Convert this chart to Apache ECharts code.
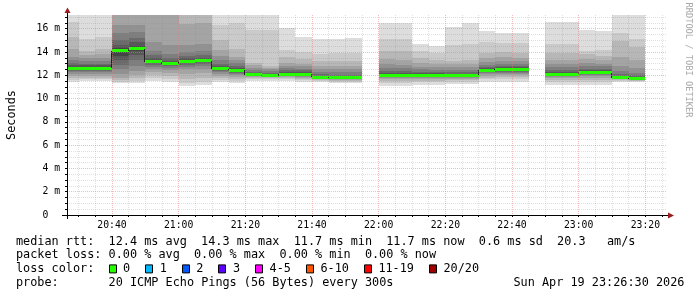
<!DOCTYPE html>
<html><head><meta charset="utf-8">
<script src="https://cdn.jsdelivr.net/npm/echarts@6/dist/echarts.min.js"></script>
<style>html,body{margin:0;padding:0;background:#fff}#c{width:697px;height:297px}</style>
</head><body><div id="c"></div>
<script>
// ---- data (times are 5-minute RRD steps, values in ms) ----
const rangeStart = '20:26:30';
const rangeEnd = '23:26:30';
const stepMinutes = 5;
const stepStart = ['20:25','20:30','20:35','20:40','20:45','20:50','20:55','21:00','21:05','21:10',
  '21:15','21:20','21:25','21:30','21:35','21:40','21:45','21:50','21:55','22:00',
  '22:05','22:10','22:15','22:20','22:25','22:30','22:35','22:40','22:45','22:50',
  '22:55','23:00','23:05','23:10','23:15'];
const medianRtt = [12.62,12.62,12.62,14.09,14.3,13.18,13.0,13.19,13.26,12.55,
  12.42,12.04,11.98,12.1,12.1,11.84,11.78,11.78,null,12.02,
  12.02,12.02,12.02,12.02,12.02,12.44,12.5,12.5,null,12.1,
  12.1,12.24,12.24,11.78,11.72];
// 20 sorted ping RTTs per step (smoke)
const pingsSorted = [
  [11.4,11.6,11.8,11.95,12.1,12.25,12.38,12.48,12.56,12.6,12.64,12.72,12.85,13.05,13.3,13.6,14.3,15.3,16.6,17.5],
  [11.5,11.65,11.8,11.95,12.1,12.25,12.38,12.48,12.56,12.6,12.64,12.72,12.85,13.0,13.2,13.45,13.75,14.1,15.1,17.5],
  [11.5,11.65,11.8,11.95,12.1,12.25,12.38,12.48,12.56,12.6,12.64,12.72,12.85,13.0,13.2,13.45,13.8,14.3,15.3,17.5],
  [11.3,11.45,11.6,11.8,12.1,12.5,12.9,13.3,13.7,14.05,14.15,14.35,14.6,15.0,15.6,16.3,17.3,18.0,19.0,20.0],
  [11.3,11.5,11.75,12.05,12.4,12.8,13.3,13.75,14.1,14.25,14.35,14.55,14.85,15.2,15.7,16.3,17.3,18.0,19.0,20.5],
  [11.5,11.75,12.0,12.3,12.55,12.75,12.9,13.02,13.12,13.16,13.2,13.3,13.5,13.75,14.1,14.9,17.3,18.0,19.0,20.0],
  [11.45,11.7,11.95,12.2,12.45,12.65,12.8,12.9,12.96,13.0,13.04,13.12,13.25,13.45,13.8,14.6,17.3,18.0,19.0,20.0],
  [11.1,11.35,11.7,12.1,12.5,12.75,12.92,13.05,13.13,13.17,13.21,13.3,13.45,13.7,14.0,14.6,16.4,17.5,18.5,20.0],
  [11.2,11.45,11.8,12.2,12.55,12.8,13.0,13.12,13.2,13.24,13.28,13.36,13.5,13.75,14.05,14.7,16.5,17.5,18.5,20.0],
  [11.4,11.6,11.8,11.95,12.1,12.25,12.36,12.45,12.51,12.54,12.57,12.64,12.78,13.0,13.3,13.7,14.2,15.0,16.3,17.5],
  [11.3,11.5,11.7,11.85,12.0,12.12,12.22,12.31,12.37,12.41,12.44,12.52,12.65,12.82,13.05,13.3,13.6,14.3,16.5,17.5],
  [11.55,11.7,11.8,11.88,11.93,11.97,12.0,12.02,12.03,12.04,12.06,12.1,12.18,12.3,12.45,12.65,12.85,13.07,15.9,17.5],
  [11.5,11.65,11.75,11.83,11.88,11.92,11.95,11.97,11.98,11.98,12.0,12.04,12.1,12.2,12.35,12.5,12.65,12.8,15.9,17.5],
  [11.5,11.65,11.75,11.85,11.92,11.98,12.02,12.06,12.09,12.1,12.12,12.18,12.28,12.42,12.6,12.8,13.07,13.6,14.2,16.07],
  [11.45,11.6,11.7,11.8,11.88,11.95,12.0,12.05,12.08,12.1,12.12,12.18,12.28,12.42,12.58,12.78,13.0,13.4,14.0,15.3],
  [11.4,11.5,11.6,11.68,11.74,11.78,11.8,11.82,11.83,11.84,11.86,11.9,11.98,12.1,12.3,12.55,12.8,13.2,13.8,15.15],
  [11.35,11.45,11.55,11.62,11.68,11.72,11.74,11.76,11.77,11.78,11.8,11.85,11.93,12.05,12.25,12.5,12.8,13.2,13.9,15.15],
  [11.3,11.45,11.55,11.62,11.68,11.72,11.74,11.76,11.77,11.78,11.8,11.84,11.92,12.05,12.25,12.5,12.8,13.2,13.9,15.2],
  null,
  [11.05,11.3,11.5,11.65,11.75,11.85,11.92,11.96,11.99,12.01,12.03,12.08,12.18,12.35,12.6,12.95,13.4,14.1,15.1,16.5],
  [11.05,11.3,11.5,11.65,11.75,11.85,11.92,11.96,11.99,12.01,12.03,12.08,12.18,12.35,12.6,12.9,13.35,14.05,15.1,16.5],
  [11.2,11.4,11.55,11.68,11.78,11.86,11.92,11.96,11.99,12.01,12.03,12.08,12.16,12.3,12.5,12.75,13.05,13.45,14.05,14.72],
  [11.2,11.4,11.55,11.68,11.78,11.86,11.92,11.96,11.99,12.01,12.03,12.08,12.16,12.28,12.45,12.7,12.95,13.35,13.9,14.5],
  [11.25,11.45,11.6,11.7,11.8,11.87,11.93,11.97,11.99,12.01,12.03,12.08,12.15,12.28,12.45,12.7,12.95,13.2,14.6,16.15],
  [11.25,11.45,11.6,11.7,11.8,11.87,11.93,11.97,11.99,12.01,12.03,12.08,12.15,12.28,12.45,12.7,13.0,13.3,14.7,16.5],
  [11.45,11.65,11.8,11.95,12.08,12.2,12.3,12.36,12.41,12.43,12.46,12.52,12.6,12.74,12.92,13.15,13.45,13.95,14.85,15.78],
  [11.45,11.65,11.85,12.0,12.12,12.22,12.32,12.4,12.46,12.49,12.52,12.58,12.68,12.82,13.0,13.25,13.55,14.0,14.8,15.64],
  [11.45,11.65,11.85,12.0,12.12,12.22,12.32,12.4,12.46,12.49,12.52,12.58,12.68,12.82,13.0,13.25,13.5,13.95,14.75,15.64],
  null,
  [11.2,11.45,11.62,11.75,11.85,11.93,11.99,12.04,12.08,12.1,12.13,12.18,12.28,12.45,12.7,13.0,13.35,13.9,14.65,16.58],
  [11.2,11.45,11.62,11.75,11.85,11.93,11.99,12.04,12.08,12.1,12.13,12.18,12.28,12.45,12.7,13.0,13.35,13.9,14.65,16.58],
  [11.15,11.4,11.6,11.75,11.9,12.0,12.08,12.15,12.2,12.23,12.26,12.32,12.42,12.58,12.8,13.05,13.4,13.8,14.1,15.92],
  [11.15,11.4,11.6,11.75,11.9,12.0,12.08,12.15,12.2,12.23,12.26,12.32,12.42,12.58,12.78,13.0,13.3,13.7,14.2,15.84],
  [11.4,11.5,11.58,11.64,11.69,11.73,11.75,11.76,11.77,11.78,11.8,11.85,11.95,12.1,12.35,12.8,13.6,14.95,15.6,17.5],
  [11.4,11.48,11.55,11.6,11.64,11.67,11.69,11.7,11.71,11.72,11.74,11.78,11.88,12.0,12.2,12.6,13.3,14.4,15.1,17.5]
];
const yMax = 17.18;
const yLabelValues = [0,2,4,6,8,10,12,14,16];
const yGridStep = 0.5;
const xLabelTimes = ['20:40','21:00','21:20','21:40','22:00','22:20','22:40','23:00','23:20'];
const xGridTimes = ['20:30','20:35','20:40','20:45','20:50','20:55','21:00','21:05','21:10','21:15',
  '21:20','21:25','21:30','21:35','21:40','21:45','21:50','21:55','22:00','22:05','22:10','22:15',
  '22:20','22:25','22:30','22:35','22:40','22:45','22:50','22:55','23:00','23:05','23:10','23:15',
  '23:20','23:25'];
const legendRtt = ['median rtt:', '12.4 ms avg', '14.3 ms max', '11.7 ms min', '11.7 ms now', '0.6 ms sd', '20.3   am/s'];
const legendLoss = ['packet loss:', '0.00 % avg', '0.00 % max', '0.00 % min', '0.00 % now'];
const lossLabels = ['0','1','2','3','4-5','6-10','11-19','20/20'];
const lossColors = ['#26ff00','#00b8ff','#0059ff','#5e00ff','#ff00ff','#ff5500','#ff0000','#a10000'];
const probeText = '20 ICMP Echo Pings (56 Bytes) every 300s';
const stampText = 'Sun Apr 19 23:26:30 2026';

// ---- helpers ----
function toMin(t) { const p = t.split(':').map(Number); return p[0]*60 + p[1] + (p[2]||0)/60; }
function fmt(m) { const h = Math.floor(m/60), mm = Math.round(m%60); return h + ':' + (mm<10?'0':'') + mm; }
const xMin = toMin(rangeStart), xMax = toMin(rangeEnd);

const smokeData = [], medianData = [];
stepStart.forEach((t, i) => {
  const s = toMin(t), e = s + stepMinutes;
  if (pingsSorted[i]) smokeData.push([s, e].concat(pingsSorted[i]));
  if (medianRtt[i] != null) {
    const prev = i > 0 && medianRtt[i-1] != null ? medianRtt[i-1] : NaN;
    medianData.push([s, e, medianRtt[i], prev]);
  }
});

const MAJOR = 'rgba(235,120,120,0.5)', MINOR = 'rgba(140,140,140,0.28)';
const yGridValues = [];
for (let v = 0; v <= yMax + 1e-9; v += yGridStep) yGridValues.push(+v.toFixed(2));
const yGridColors = yGridValues.map((v, i) => i % 4 === 0 ? MAJOR : MINOR);
const xGridValues = xGridTimes.map(toMin);
const xGridColors = xGridValues.map(v => (Math.round(v) % 20 === 0) ? MAJOR : MINOR);

function renderSmoke(params, api) {
  const s = api.value(0), e = api.value(1);
  const x0 = Math.round(api.coord([Math.max(s, xMin), 0])[0]);
  const x1 = Math.round(api.coord([Math.min(e, xMax), 0])[0]);
  const children = [];
  for (let i = 0; i < 10; i++) {
    const lo = api.value(2 + i), hi = Math.min(api.value(21 - i), yMax);
    const yLo = Math.round(api.coord([s, lo])[1]);
    const yHi = Math.round(api.coord([s, hi])[1]);
    const c = Math.floor(190 / 10 * (10 - (i + 1))) + 50;
    children.push({ type: 'rect', shape: { x: x0, y: yHi, width: x1 - x0, height: Math.max(yLo - yHi, 1) },
      style: { fill: 'rgb(' + c + ',' + c + ',' + c + ')' } });
  }
  return { type: 'group', children };
}
function renderMedian(params, api) {
  const s = api.value(0), e = api.value(1), m = api.value(2), prev = api.value(3);
  const xa = Math.round(api.coord([Math.max(s, xMin), m])[0]);
  const xb = Math.round(api.coord([Math.min(e, xMax), m])[0]);
  const ym = api.coord([s, m])[1];
  const children = [];
  if (!isNaN(prev)) {
    const yp = api.coord([s, prev])[1];
    children.push({ type: 'line', shape: { x1: xa - 0.5, y1: Math.round(yp), x2: xa - 0.5, y2: Math.round(ym) },
      style: { stroke: '#202020', lineWidth: 1 } });
  }
  children.push({ type: 'rect', shape: { x: xa, y: Math.round(ym - 1.5), width: xb - xa, height: 3 },
    style: { fill: lossColors[0] } });
  return { type: 'group', children };
}

const MONO = "'DejaVu Sans Mono', monospace";
const LF = 11.83, CW = 7.12, X0 = 16;
const rowY = [241.5, 255.2, 268.9, 282.6];
const graphics = [];
function addText(x, y, text, extra) {
  graphics.push(Object.assign({ type: 'text', x: x, y: y, silent: true,
    style: { text: text, font: LF + 'px ' + MONO, fill: '#000', textAlign: 'left', textVerticalAlign: 'middle' } }, extra || {}));
}
const rttCols = [0, 13, 26, 39, 52, 65, 76];
legendRtt.forEach((t, i) => addText(X0 + rttCols[i] * CW, rowY[0], t));
const lossCols = [0, 13, 25, 37, 49];
legendLoss.forEach((t, i) => addText(X0 + lossCols[i] * CW, rowY[1], t));
addText(X0, rowY[2], 'loss color:');
let bx = X0 + 13 * CW;
lossLabels.forEach((lab, i) => {
  graphics.push({ type: 'rect', silent: true, shape: { x: Math.round(bx) + 0.5, y: rowY[2] - 4, width: 7, height: 8 },
    style: { fill: lossColors[i], stroke: '#000', lineWidth: 1 } });
  const lx = bx + 14.5;
  addText(lx, rowY[2], lab);
  bx = lx + lab.length * CW + 15;
});
addText(X0, rowY[3], 'probe:');
addText(X0 + 13 * CW, rowY[3], probeText);
addText(513.5, rowY[3], stampText);
graphics.push({ type: 'text', x: 12, y: 115, rotation: Math.PI / 2, silent: true,
  style: { text: 'Seconds', font: LF + 'px ' + MONO, fill: '#000', textAlign: 'center', textVerticalAlign: 'middle' } });
graphics.push({ type: 'text', x: 688.5, y: 60, rotation: -Math.PI / 2, silent: true,
  style: { text: 'RRDTOOL / TOBI OETIKER', font: '8.7px ' + MONO, fill: '#a8a8a8', textAlign: 'center', textVerticalAlign: 'middle' } });
graphics.push({ type: 'line', silent: true, z: 20, shape: { x1: 62, y1: 215.5, x2: 668, y2: 215.5 }, style: { stroke: '#000', lineWidth: 1 } });
graphics.push({ type: 'line', silent: true, z: 20, shape: { x1: 67.5, y1: 219, x2: 67.5, y2: 12 }, style: { stroke: '#000', lineWidth: 1 } });
graphics.push({ type: 'polygon', silent: true, z: 21, shape: { points: [[64.5, 13], [70.5, 13], [67.5, 7.5]] }, style: { fill: '#9b1c1c' } });
graphics.push({ type: 'polygon', silent: true, z: 21, shape: { points: [[668, 212.5], [668, 218.5], [674, 215.5]] }, style: { fill: '#9b1c1c' } });

const chart = echarts.init(document.getElementById('c'), null, { renderer: 'canvas' });
chart.setOption({
  animation: false,
  backgroundColor: '#ffffff',
  grid: { left: 67, right: 30, top: 15, height: 200 },
  xAxis: {
    type: 'value', min: xMin, max: xMax, z: 10,
    axisLine: { show: true, lineStyle: { color: '#000', width: 1 } },
    axisTick: { show: true, length: 2, inside: false, customValues: xGridValues, lineStyle: { color: '#000' } },
    axisLabel: { customValues: xLabelTimes.map(toMin), formatter: v => fmt(v), margin: 5,
      fontFamily: MONO, fontSize: 9.75, color: '#000' },
    splitLine: { show: true, lineStyle: { color: xGridColors, width: 1, type: [1, 1] } }
  },
  yAxis: {
    type: 'value', min: 0, max: yMax, z: 10,
    axisLine: { show: true, lineStyle: { color: '#000', width: 1 } },
    axisTick: { show: true, length: 2, customValues: yGridValues, lineStyle: { color: '#000' } },
    axisLabel: { customValues: yLabelValues, formatter: v => v === 0 ? '0  ' : v + ' m', margin: 7,
      fontFamily: MONO, fontSize: 9.75, color: '#000' },
    splitLine: { show: true, lineStyle: { color: yGridColors, width: 1, type: [1, 1] } }
  },
  series: [
    { type: 'custom', name: 'smoke', renderItem: renderSmoke, data: smokeData, z: 2, clip: true,
      encode: { x: [0, 1], y: [2, 21] } },
    { type: 'custom', name: 'median rtt', renderItem: renderMedian, data: medianData, z: 3, clip: true,
      encode: { x: [0, 1], y: [2] } }
  ],
  graphic: graphics
});
</script></body></html>
